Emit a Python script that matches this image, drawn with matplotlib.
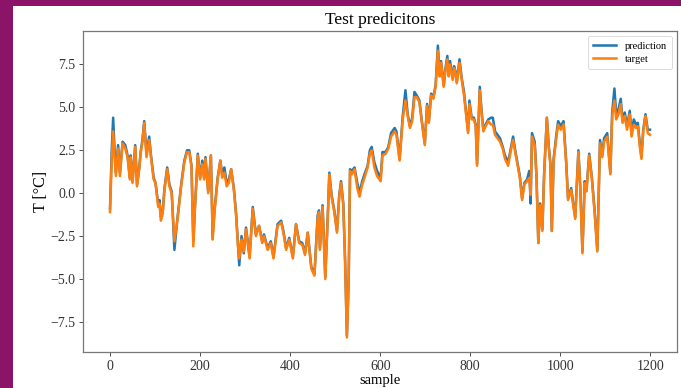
import matplotlib
matplotlib.use("Agg")
import matplotlib.pyplot as plt
from matplotlib.patches import Rectangle

# sample index of each reading
samples = [
    0, 4, 7, 10, 13, 18, 22, 28, 34, 39, 44, 46, 50, 56, 60, 65, 68, 72, 76, 81,
    87, 91, 97, 101, 107, 110, 113, 117, 121, 127, 132, 137, 143, 150, 158, 165, 171, 176, 181, 185,
    189, 195, 200, 205, 209, 212, 218, 224, 228, 232, 239, 245, 249, 254, 259, 264, 269, 275, 280, 284,
    287, 292, 297, 302, 310, 317, 324, 331, 338, 342, 350, 357, 363, 372, 380, 385, 391, 398, 406, 413,
    420, 427, 433, 439, 447, 454, 461, 464, 466, 472, 478, 484, 487, 492, 498, 504, 509, 513, 518, 522,
    526, 530, 533, 537, 543, 549, 554, 560, 565, 572, 577, 581, 587, 593, 601, 605, 612, 618, 624, 632,
    636, 643, 650, 656, 661, 666, 671, 676, 681, 687, 692, 699, 704, 708, 713, 718, 723, 728, 732, 735,
    741, 745, 749, 752, 755, 761, 764, 767, 770, 776, 781, 786, 791, 795, 798, 803, 808, 812, 815, 821,
    825, 829, 834, 840, 846, 850, 855, 866, 872, 877, 884, 890, 895, 901, 910, 915, 920, 926, 931, 934,
    937, 943, 947, 951, 955, 960, 964, 970, 974, 978, 981, 985, 991, 995, 1001, 1007, 1013, 1017, 1024, 1028,
    1033, 1040, 1044, 1049, 1054, 1058, 1064, 1070, 1076, 1082, 1088, 1093, 1097, 1104, 1111, 1115, 1120, 1124, 1129, 1134,
    1138, 1143, 1148, 1154, 1158, 1163, 1168, 1172, 1176, 1180, 1184, 1189, 1194, 1199,
]

# measured temperature [°C]
target = [
    -1.1, 2.0, 3.6, 2.2, 1.0, 2.6, 1.0, 2.9, 2.6, 2.1, 0.8, 2.1, 0.6, 2.7, 0.4, 1.4, 2.3, 3.0, 4.1, 2.1,
    3.1, 2.1, 0.8, 0.6, -0.8, -0.6, -1.6, -1.2, 0.2, 1.4, 0.4, 0.0, -2.8, -1.5, 0.4, 1.8, 2.4, 2.4, 1.5, -3.1,
    -0.7, 2.2, 0.8, 1.7, 0.8, 2.0, 0.0, 2.2, -2.7, -1.1, 0.8, 1.9, 0.9, 1.2, 0.4, 0.6, 1.4, 0.2, -1.3, -3.0,
    -3.8, -2.7, -3.4, -2.1, -3.8, -0.9, -2.5, -1.9, -2.9, -2.5, -3.3, -2.9, -3.8, -1.9, -1.7, -2.3, -3.3, -2.7, -3.8, -1.8,
    -2.9, -3.0, -3.6, -2.3, -4.4, -4.8, -1.5, -1.1, -3.3, -0.8, -5.0, -1.1, 1.1, -0.2, -1.1, -2.3, -0.2, 0.6, -0.7, -4.0,
    -8.4, -5.0, 1.3, 1.1, 1.4, 0.3, -0.2, 0.5, 0.9, 1.5, 2.3, 2.5, 1.5, 1.0, 0.7, 2.2, 2.3, 2.6, 3.3, 3.6,
    3.4, 1.9, 4.3, 5.4, 4.5, 3.8, 4.2, 5.6, 5.6, 5.3, 4.2, 2.8, 5.1, 4.1, 5.7, 5.5, 6.2, 8.3, 6.8, 7.6,
    6.2, 7.2, 7.8, 6.8, 7.5, 6.6, 7.3, 7.0, 6.4, 7.6, 6.6, 5.7, 4.5, 3.5, 5.2, 4.3, 4.3, 3.9, 1.6, 6.0,
    4.7, 3.6, 3.9, 4.2, 4.0, 4.0, 3.4, 3.0, 2.6, 2.0, 1.6, 2.5, 3.1, 2.2, 0.9, -0.4, 0.5, 0.7, 0.9, -0.1,
    3.3, 2.8, 0.9, -2.9, -0.7, -2.2, 1.1, 4.4, 2.7, 1.6, -2.2, 1.9, 3.2, 4.0, 3.7, 4.0, 1.7, -0.4, 0.2, -0.6,
    -1.5, 2.4, 0.4, -3.5, 0.6, 0.1, 2.2, 0.8, -1.1, -3.4, 2.9, 2.1, 3.0, 3.3, 1.1, 4.5, 5.4, 4.3, 4.6, 5.2,
    4.1, 4.5, 3.7, 4.6, 3.3, 4.0, 3.8, 3.9, 2.8, 2.0, 3.6, 4.5, 3.5, 3.4,
]

# model output [°C]
prediction = [
    -0.9, 2.6, 4.4, 2.6, 1.2, 2.8, 1.2, 3.0, 2.8, 2.2, 0.9, 2.2, 0.7, 2.8, 0.5, 1.5, 2.4, 3.1, 4.2, 2.3,
    3.3, 2.2, 0.9, 0.6, -0.6, -0.4, -1.4, -1.1, 0.3, 1.5, 0.5, 0.1, -3.3, -1.4, 0.5, 1.9, 2.5, 2.5, 1.6, -2.8,
    -0.6, 2.3, 0.9, 1.9, 0.9, 2.1, 0.1, 2.2, -2.5, -1.0, 0.9, 1.9, 1.1, 1.5, 0.6, 0.8, 1.4, 0.3, -1.2, -2.9,
    -4.2, -2.5, -3.5, -2.0, -3.7, -0.8, -2.4, -1.9, -2.8, -2.4, -3.2, -2.8, -3.7, -1.8, -1.6, -2.2, -3.2, -2.6, -3.7, -1.8,
    -2.8, -2.9, -3.5, -2.3, -4.3, -4.7, -1.3, -1.0, -3.2, -0.7, -4.9, -1.0, 1.2, -0.1, -1.0, -2.2, -0.1, 0.7, -0.6, -3.9,
    -8.3, -5.0, 1.4, 1.3, 1.5, 0.6, 0.0, 0.7, 1.1, 1.6, 2.5, 2.7, 1.8, 1.3, 0.9, 2.4, 2.4, 2.7, 3.5, 3.8,
    3.6, 2.0, 4.5, 6.0, 4.6, 3.9, 4.4, 5.9, 5.7, 5.4, 4.3, 2.9, 5.2, 4.2, 5.8, 5.6, 6.3, 8.6, 6.9, 7.7,
    6.3, 7.3, 8.0, 6.9, 7.7, 6.7, 7.4, 7.1, 6.5, 7.8, 6.7, 5.9, 4.6, 3.6, 5.4, 4.4, 4.4, 4.0, 1.7, 6.2,
    4.8, 3.7, 4.0, 4.3, 4.4, 4.4, 3.6, 3.2, 2.7, 2.2, 1.8, 2.6, 3.3, 2.3, 1.0, -0.3, 0.6, 0.8, 1.3, -0.6,
    3.5, 3.0, 1.0, -2.9, -0.6, -2.1, 1.2, 4.4, 2.8, 1.7, -2.2, 2.0, 3.4, 4.2, 3.9, 4.2, 1.8, -0.3, 0.3, -0.5,
    -1.4, 2.5, 0.5, -3.4, 0.7, 0.2, 2.3, 0.9, -1.0, -3.3, 3.1, 2.2, 3.2, 3.5, 1.2, 4.7, 6.1, 4.6, 4.9, 5.5,
    4.3, 4.7, 3.9, 4.8, 3.5, 4.3, 4.0, 4.1, 3.0, 2.1, 3.7, 4.6, 3.7, 3.7,
]

assert len(samples) == len(target) == len(prediction)

plt.rcParams["font.family"] = ["Liberation Serif", "DejaVu Serif"]

fig = plt.figure(figsize=(6.81, 3.88), dpi=100)
fig.patch.set_facecolor("white")

# purple frame along the top and left edges
frame = "#8b1468"
fig.patches.append(Rectangle((0, 0), 13 / 681, 1, transform=fig.transFigure,
                             facecolor=frame, edgecolor="none", zorder=0))
fig.patches.append(Rectangle((0, 1 - 6 / 388), 1, 6 / 388, transform=fig.transFigure,
                             facecolor=frame, edgecolor="none", zorder=0))

ax = fig.add_axes([83 / 681, 1 - 352 / 388, (677 - 83) / 681, (352 - 31) / 388])

ax.plot(samples, prediction, color="#1f77b4", lw=1.8, label="prediction")
ax.plot(samples, target, color="#ff7f0e", lw=1.8, label="target")

ax.set_xticks([0, 200, 400, 600, 800, 1000, 1200])
ax.set_yticks([-7.5, -5.0, -2.5, 0.0, 2.5, 5.0, 7.5])
ax.tick_params(labelsize=10, colors="#333333", length=3, width=0.6, pad=2.5)
for s in ax.spines.values():
    s.set_color("#777777")
    s.set_linewidth(0.9)

ax.set_title("Test predicitons", fontsize=12.5, pad=5)
ax.set_xlabel("sample", fontsize=10.5, labelpad=1)
ax.set_ylabel("T [°C]", fontsize=11.5, labelpad=1)

leg = ax.legend(loc="upper right", fontsize=7.5, handlelength=2.2, borderpad=0.5,
                labelspacing=0.35, framealpha=0.8)
leg.get_frame().set_linewidth(0.6)

fig.savefig("out.png", dpi=100, facecolor=fig.get_facecolor())
